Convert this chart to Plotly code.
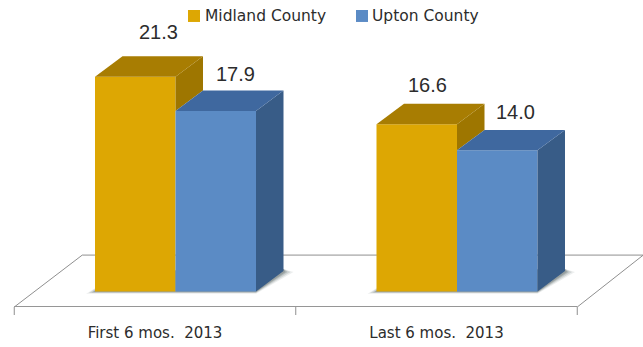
import plotly.graph_objects as go

# Chart data
periods = ["First 6 mos.  2013", "Last 6 mos.  2013"]
midland = [21.3, 16.6]
upton = [17.9, 14.0]
midland_text = ["21.3", "16.6"]
upton_text = ["17.9", "14.0"]

WIDTH, HEIGHT = 643, 347
FLOOR_PX = 39.5            # space under the floor's front edge
PX_X, PX_Y = 281.5, 10.1   # pixels per category and per value unit
ORIGIN_X_PX, ORIGIN_Y_PX = 155.0, 292.0

ux = lambda px: px / PX_X
uy = lambda px: px / PX_Y

BAR_W = ux(80.5)
SHIFT = ux(20.5)
DX, DY = ux(27.5), uy(20.5)

GOLD = dict(front="#DDA703", top="#A87D02", side="#9E7600")
BLUE = dict(front="#5B8BC5", top="#3F689F", side="#385C87")
TEXT = "#2c2c2c"
FONT = "Liberation Sans"

x_pos = list(range(len(periods)))
fig = go.Figure()


def polygon(xs, ys, color):
    fig.add_trace(go.Scatter(x=xs + xs[:1], y=ys + ys[:1], mode="lines", fill="toself",
                             fillcolor=color, line=dict(width=0), hoverinfo="skip",
                             showlegend=False))


fig.add_trace(go.Bar(x=x_pos, y=midland, width=BAR_W, offset=SHIFT - BAR_W, name="Midland County",
                     marker=dict(color=GOLD["front"], line=dict(width=0)), showlegend=False))
fig.add_trace(go.Bar(x=x_pos, y=upton, width=BAR_W, offset=SHIFT, name="Upton County",
                     marker=dict(color=BLUE["front"], line=dict(width=0)), showlegend=False))

# Extruded top and side faces for each bar pair
for i, (m, u) in enumerate(zip(midland, upton)):
    left, mid, right = i + SHIFT - BAR_W, i + SHIFT, i + SHIFT + BAR_W
    polygon([mid, mid + DX, mid + DX, mid], [m, m + DY, u + DY, u], GOLD["side"])
    polygon([left, left + DX, mid + DX, mid], [m, m + DY, m + DY, m], GOLD["top"])
    polygon([right, right + DX, right + DX, right], [u, u + DY, DY, 0], BLUE["side"])
    polygon([mid, mid + DX, right + DX, right], [u, u + DY, u + DY, u], BLUE["top"])

shapes = []

# Floor slab
FL = uy(ORIGIN_Y_PX - 307.5)
BK = uy(ORIGIN_Y_PX - 255.5)
fx0, fx1 = -0.5, 1.5
skew = ux(68)
GRID = "#8f8f8f"
floor_path = (f"M {fx0},{FL} L {fx1},{FL} L {fx1 + ux(66)},{BK} L {fx0 + skew},{BK} Z")
shapes.append(dict(type="path", path=floor_path, xref="x", yref="y", layer="below",
                   fillcolor="white", line=dict(color=GRID, width=1)))
shapes.append(dict(type="line", xref="x", yref="y", layer="below", x0=fx0, x1=fx1, y0=FL, y1=FL,
                   line=dict(color="#969696", width=2)))
for t in (-0.5, 0.5, 1.5):
    shapes.append(dict(type="line", xref="x", yref="paper", yanchor=0, ysizemode="pixel",
                       x0=t, x1=t, y0=0, y1=-8, layer="below",
                       line=dict(color=GRID, width=1)))

# Soft contact shadow round each bar pair's base
for i in x_pos:
    l, r = i + SHIFT - BAR_W, i + SHIFT + BAR_W
    for grow, alpha in ((10, 0.10), (7, 0.16), (4, 0.22), (2, 0.25)):
        g = grow / 9
        path = (f"M {l - ux(8 * g)},{uy(-2 * g)} L {r},{uy(-2 * g)} "
                f"L {r + DX + ux(9 * g)},{DY - uy(1)} L {r + DX},{DY + uy(2)} L {l + DX},{DY} Z")
        shapes.append(dict(type="path", path=path, xref="x", yref="y", layer="below",
                           fillcolor=f"rgba(70,85,85,{alpha})", line=dict(width=0)))

# Legend swatches and labels
annotations = []
for sw_x, text_x, color, name in ((188, 203, GOLD["front"], "Midland County"),
                                  (356, 370, BLUE["front"], "Upton County")):
    shapes.append(dict(type="rect", xref="paper", yref="paper",
                       x0=sw_x / WIDTH, x1=(sw_x + 12) / WIDTH,
                       y0=1 - 22 / (HEIGHT - FLOOR_PX), y1=1 - 10 / (HEIGHT - FLOOR_PX),
                       fillcolor=color, line=dict(width=0)))
    annotations.append(dict(xref="paper", yref="paper", x=text_x / WIDTH,
                            y=1 - 16 / (HEIGHT - FLOOR_PX), text=name, showarrow=False,
                            xanchor="left", yanchor="middle",
                            font=dict(family="DejaVu Sans", size=15.5, color=TEXT)))

# Value labels, nudged clear of the extruded tops
label_rows = [
    (0, -1, midland[0], midland_text[0], 23, 45),
    (0, 1, upton[0], upton_text[0], 19.5, 37),
    (1, -1, midland[1], midland_text[1], 11, 39),
    (1, 1, upton[1], upton_text[1], 18.5, 38),
]
for i, side, value, text, xs, ys in label_rows:
    annotations.append(dict(x=i + SHIFT + side * BAR_W / 2, y=value, xref="x", yref="y",
                            text=text, showarrow=False, xshift=xs, yshift=ys,
                            font=dict(family=FONT, size=20, color=TEXT)))

fig.update_layout(
    width=WIDTH, height=HEIGHT,
    margin=dict(l=0, r=0, t=0, b=FLOOR_PX),
    paper_bgcolor="white", plot_bgcolor="white",
    showlegend=False, shapes=shapes, annotations=annotations,
    xaxis=dict(range=[-ORIGIN_X_PX / PX_X, (WIDTH - ORIGIN_X_PX) / PX_X],
               tickmode="array", tickvals=x_pos, ticktext=periods, ticks="",
               showgrid=False, zeroline=False, showline=False, ticklabelstandoff=15,
               tickfont=dict(family="DejaVu Sans", size=15, color=TEXT)),
    yaxis=dict(range=[-uy(15.5), uy(ORIGIN_Y_PX)], visible=False),
)

fig.write_html("out.html")
